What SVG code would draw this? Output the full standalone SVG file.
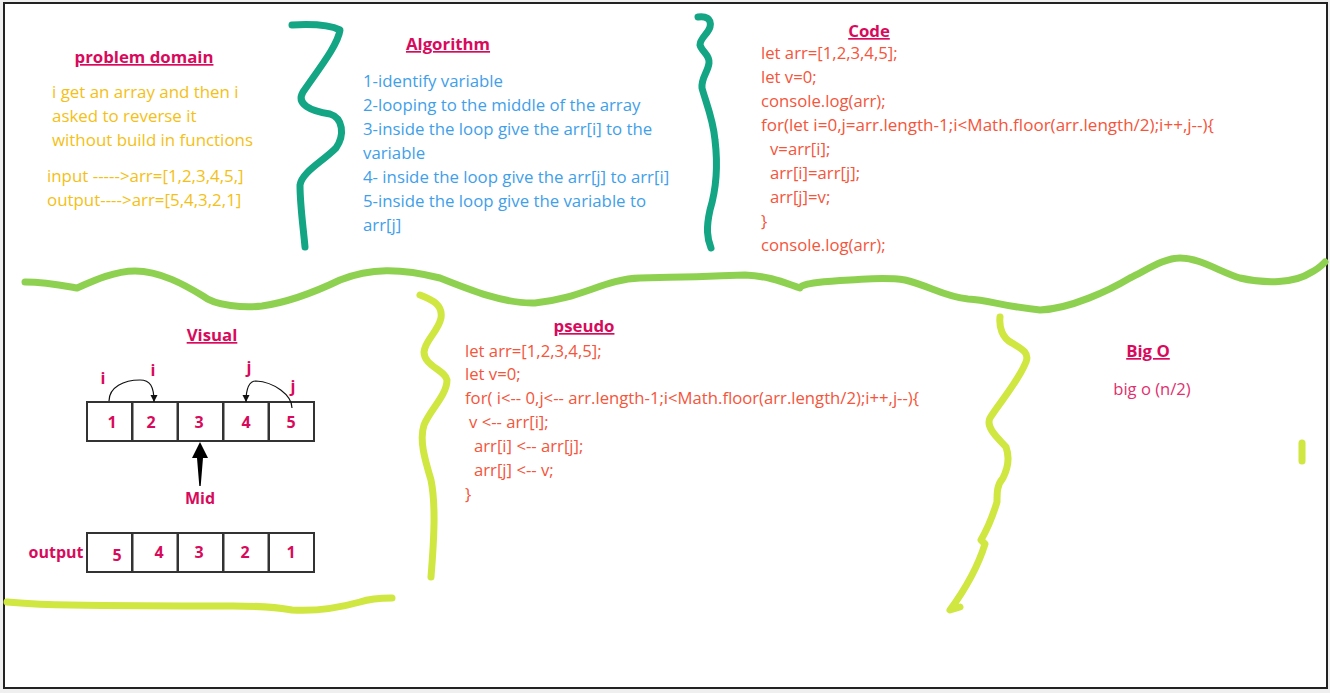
<svg xmlns="http://www.w3.org/2000/svg" width="1330" height="693" viewBox="0 0 1330 693">
<defs>
<style>
.h{font-family:"Open Sans","Liberation Sans",sans-serif;font-weight:bold;font-size:16.8px;fill:#d80a5c;text-decoration:underline}
.pd{font-family:"Open Sans","Liberation Sans",sans-serif;font-size:16.9px;fill:#f5bf16}
.al{font-family:"Open Sans","Liberation Sans",sans-serif;font-size:16.8px;fill:#3fa0ea}
.cd{font-family:"Open Sans","Liberation Sans",sans-serif;font-size:16.7px;fill:#f4553b}
.vn{font-family:"Open Sans","Liberation Sans",sans-serif;font-weight:bold;font-size:16px;fill:#d80a5c}
.bo{font-family:"Open Sans","Liberation Sans",sans-serif;font-size:16.6px;fill:#e0306e}
.box{fill:#fff;stroke:#333;stroke-width:2}
.teal{fill:none;stroke:#13a584;stroke-width:7;stroke-linecap:round;stroke-linejoin:round}
.wave{fill:none;stroke:#8ed150;stroke-width:7;stroke-linecap:round;stroke-linejoin:round}
.lime{fill:none;stroke:#d0e641;stroke-width:7;stroke-linecap:round;stroke-linejoin:round}
.arc{fill:none;stroke:#111;stroke-width:1.2}
</style>
<marker id="ah" viewBox="0 0 10 10" refX="10" refY="5" markerWidth="7" markerHeight="8" orient="auto" markerUnits="userSpaceOnUse">
<path d="M0,0 L10,5 L0,10 z" fill="#111"/>
</marker>
</defs>
<rect x="0" y="0" width="1330" height="693" fill="#efefef"/>
<rect x="4" y="3" width="1323" height="685" fill="#fff" stroke="#222" stroke-width="2"/>

<g id="strokes">
<path class="teal" d="M292,25 C310,24 330,25 340,30 C338,45 318,70 303,92 C296,104 310,111 330,114 C343,118 345,135 336,148 C322,162 302,172 300,185 C300,205 303,225 305,247"/>
<path class="teal" d="M698,17 C705,16 712,18 710,27 C708,34 700,38 700,45 C702,52 710,55 709,63 C708,72 701,78 702,88 C705,100 713,118 715,140 C718,165 716,190 710,210 C706,228 707,238 711,248"/>
<path class="wave" d="M25,282 C45,282 60,285 77,288 C95,280 115,271 135,271 C160,271 185,285 203,296 C215,306 245,308 262,306 C290,302 315,292 340,280 C370,268 400,268 440,278 C470,290 505,304 535,303 C580,299 605,279 640,278 C690,277 720,276 745,275 C770,276 785,283 800,288 C800,283 830,281 850,280 C870,279 885,277 905,280 C930,286 945,297 968,299 C990,300 1000,306 1040,310 C1070,309 1110,290 1130,278 C1150,268 1165,258 1180,258 C1200,258 1220,272 1240,278 C1265,284 1295,283 1310,273 C1320,268 1323,264 1325,262"/>
<path class="lime" d="M420,295 C433,300 443,305 441,318 C438,332 425,340 424,352 C424,366 445,370 447,380 C447,395 430,410 424,425 C419,440 425,460 431,480 C436,505 434,540 431,577"/>
<path class="lime" d="M1000,317 C999,327 1002,338 1012,343 C1020,348 1030,352 1026,362 C1018,382 1000,402 990,418 C985,428 1000,440 1006,447 C1010,458 1007,470 1003,478 C997,485 997,492 997,502 C993,515 988,528 981,540 L985,544 C980,560 972,580 950,610 L960,607"/>
<path class="lime" d="M7,602 C30,604 50,605 70,605 C130,606 190,606 233,606 C255,606 275,607 292,610 C310,611 335,609 360,602 C372,598 382,598 392,598"/>
<path class="lime" d="M1302,443 L1302,461"/>
</g>

<g id="problem-domain">
<text class="h" x="144" y="63" text-anchor="middle">problem domain</text>
<text class="pd" x="52" y="98">i get an array and then i</text>
<text class="pd" x="52" y="122">asked to reverse it</text>
<text class="pd" x="52" y="146">without build in functions</text>
<text class="pd" x="47" y="182">input -----&gt;arr=[1,2,3,4,5,]</text>
<text class="pd" x="47" y="206">output----&gt;arr=[5,4,3,2,1]</text>
</g>

<g id="algorithm">
<text class="h" x="448" y="50" text-anchor="middle">Algorithm</text>
<text class="al" x="363" y="87">1-identify variable</text>
<text class="al" x="363" y="111">2-looping to the middle of the array</text>
<text class="al" x="363" y="135">3-inside the loop give the arr[i] to the</text>
<text class="al" x="363" y="159">variable</text>
<text class="al" x="363" y="183">4- inside the loop give the arr[j] to arr[i]</text>
<text class="al" x="363" y="207">5-inside the loop give the variable to</text>
<text class="al" x="363" y="231">arr[j]</text>
</g>

<g id="code">
<text class="h" x="869" y="37" text-anchor="middle">Code</text>
<text class="cd" x="761" y="59">let arr=[1,2,3,4,5];</text>
<text class="cd" x="761" y="83">let v=0;</text>
<text class="cd" x="761" y="107">console.log(arr);</text>
<text class="cd" x="761" y="131" textLength="453" lengthAdjust="spacingAndGlyphs">for(let i=0,j=arr.length-1;i&lt;Math.floor(arr.length/2);i++,j--){</text>
<text class="cd" x="770" y="155">v=arr[i];</text>
<text class="cd" x="770" y="179">arr[i]=arr[j];</text>
<text class="cd" x="770" y="203">arr[j]=v;</text>
<text class="cd" x="761" y="227">}</text>
<text class="cd" x="761" y="251">console.log(arr);</text>
</g>

<g id="visual">
<text class="h" x="212" y="341" text-anchor="middle">Visual</text>
<rect class="box" x="87" y="402" width="45" height="39"/>
<rect class="box" x="132.5" y="402" width="45" height="39"/>
<rect class="box" x="178" y="402" width="45" height="39"/>
<rect class="box" x="223.5" y="402" width="45" height="39"/>
<rect class="box" x="269" y="402" width="45" height="39"/>
<text class="vn" x="112" y="428" text-anchor="middle">1</text>
<text class="vn" x="151" y="428" text-anchor="middle">2</text>
<text class="vn" x="199" y="428" text-anchor="middle">3</text>
<text class="vn" x="246" y="428" text-anchor="middle">4</text>
<text class="vn" x="291" y="428" text-anchor="middle">5</text>
<text class="vn" x="103" y="384" text-anchor="middle">i</text>
<text class="vn" x="153" y="376" text-anchor="middle">i</text>
<text class="vn" x="249" y="373" text-anchor="middle">j</text>
<text class="vn" x="293" y="392" text-anchor="middle">j</text>
<text class="vn" x="200" y="504" text-anchor="middle">Mid</text>
<rect class="box" x="87" y="533" width="45" height="39"/>
<rect class="box" x="132.5" y="533" width="45" height="39"/>
<rect class="box" x="178" y="533" width="45" height="39"/>
<rect class="box" x="223.5" y="533" width="45" height="39"/>
<rect class="box" x="269" y="533" width="45" height="39"/>
<text class="vn" x="56" y="558" text-anchor="middle">output</text>
<text class="vn" x="117" y="561" text-anchor="middle">5</text>
<text class="vn" x="159" y="558" text-anchor="middle">4</text>
<text class="vn" x="199" y="558" text-anchor="middle">3</text>
<text class="vn" x="245" y="558" text-anchor="middle">2</text>
<text class="vn" x="291" y="558" text-anchor="middle">1</text>
</g>

<g id="connectors">
<path class="arc" d="M109,401 C109,387 124,380 140,380 C150,380 154,386 154,402" marker-end="url(#ah)"/>
<path class="arc" d="M292,408 C292,395 274,382 256,381 C249,381 246,388 246,402" marker-end="url(#ah)"/>
<polygon points="200,442 192,458 197,458 199.3,486 200.7,486 203,458 208,458" fill="#000"/>
</g>

<g id="pseudo">
<text class="h" x="584" y="332" text-anchor="middle">pseudo</text>
<text class="cd" x="465" y="357">let arr=[1,2,3,4,5];</text>
<text class="cd" x="465" y="380">let v=0;</text>
<text class="cd" x="465" y="404" textLength="454" lengthAdjust="spacingAndGlyphs">for( i&lt;-- 0,j&lt;-- arr.length-1;i&lt;Math.floor(arr.length/2);i++,j--){</text>
<text class="cd" x="469" y="428">v &lt;-- arr[i];</text>
<text class="cd" x="474" y="452">arr[i] &lt;-- arr[j];</text>
<text class="cd" x="474" y="476">arr[j] &lt;-- v;</text>
<text class="cd" x="465" y="500">}</text>
</g>

<g id="big-o">
<text class="h" x="1148" y="357" text-anchor="middle">Big O</text>
<text class="bo" x="1152" y="395" text-anchor="middle">big o (n/2)</text>
</g>
</svg>
